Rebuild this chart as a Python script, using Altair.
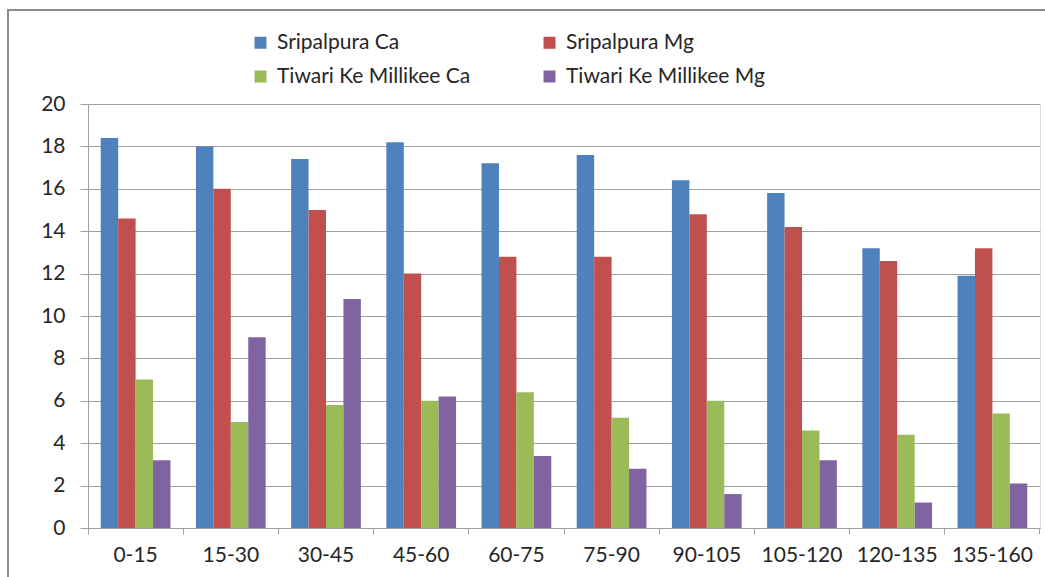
import altair as alt
import pandas as pd

depths = ["0-15", "15-30", "30-45", "45-60", "60-75", "75-90", "90-105", "105-120", "120-135", "135-160"]
series = ["Sripalpura Ca", "Sripalpura Mg", "Tiwari Ke Millikee Ca", "Tiwari Ke Millikee Mg"]
sri_ca = [18.4, 18.0, 17.4, 18.2, 17.2, 17.6, 16.4, 15.8, 13.2, 11.9]
sri_mg = [14.6, 16.0, 15.0, 12.0, 12.8, 12.8, 14.8, 14.2, 12.6, 13.2]
tiw_ca = [7.0, 5.0, 5.8, 6.0, 6.4, 5.2, 6.0, 4.6, 4.4, 5.4]
tiw_mg = [3.2, 9.0, 10.8, 6.2, 3.4, 2.8, 1.6, 3.2, 1.2, 2.1]
colors = ["#4F81BD", "#C0504D", "#9BBB59", "#8064A2"]
y_ticks = [0, 2, 4, 6, 8, 10, 12, 14, 16, 18, 20]

# legend fills column by column: order entries so rows read Ca/Mg pairs
legend_order = [series[0], series[2], series[1], series[3]]
legend_colors = [colors[0], colors[2], colors[1], colors[3]]

rows = []
for name, vals in zip(series, [sri_ca, sri_mg, tiw_ca, tiw_mg]):
    for d, v in zip(depths, vals):
        rows.append({"depth": d, "series": name, "value": v})
df = pd.DataFrame(rows)

W, H = 952, 424
FONT = "Lato"
GRAY = "#a0a0a0"

bars = alt.Chart(df).mark_bar().encode(
    x=alt.X(
        "depth:N",
        sort=depths,
        scale=alt.Scale(paddingInner=0, paddingOuter=0),
        axis=alt.Axis(
            title=None, labelAngle=0, bandPosition=0,
            ticks=True, tickSize=6, tickColor=GRAY, domainColor=GRAY,
            labelFont=FONT, labelFontSize=21, labelColor="#262626",
            labelPadding=10, grid=False,
        ),
    ),
    xOffset=alt.XOffset(
        "series:N", sort=series,
        scale=alt.Scale(paddingInner=0, paddingOuter=0.73),
    ),
    y=alt.Y(
        "value:Q",
        scale=alt.Scale(domain=[0, 20], nice=False),
        axis=alt.Axis(
            title=None, values=y_ticks, grid=True, gridColor=GRAY,
            domainColor=GRAY, tickColor=GRAY, tickSize=8,
            labelFont=FONT, labelFontSize=21, labelColor="#262626",
            labelPadding=15,
        ),
    ),
    color=alt.Color(
        "series:N",
        scale=alt.Scale(domain=legend_order, range=legend_colors),
        legend=alt.Legend(
            title=None, orient="none", legendX=162, legendY=-72, columns=2,
            symbolType="square", symbolSize=144, symbolStrokeWidth=0,
            labelFont=FONT, labelFontSize=21, labelColor="#262626",
            labelOffset=6, labelLimit=400, columnPadding=68, rowPadding=12,
        ),
    ),
)

one = pd.DataFrame({"k": [0]})
border_left = alt.Chart(one).mark_rule(color="#8c8c8c", strokeWidth=2, clip=False).encode(
    x=alt.value(-80), x2=alt.value(-80), y=alt.value(-94), y2=alt.value(480)
)
border_top = alt.Chart(one).mark_rule(color="#8c8c8c", strokeWidth=2, clip=False).encode(
    x=alt.value(-81), x2=alt.value(970), y=alt.value(-94), y2=alt.value(-94)
)
end_tick = alt.Chart(one).mark_rule(color=GRAY, strokeWidth=1, clip=False).encode(
    x=alt.value(W - 0.5), x2=alt.value(W - 0.5), y=alt.value(H), y2=alt.value(H + 6)
)

chart = alt.layer(bars, border_left, border_top, end_tick).properties(
    width=W, height=H,
    padding={"left": 88, "top": 104, "right": 5, "bottom": 49},
    autosize=alt.AutoSizeParams(type="none"),
).configure_view(stroke=None).configure(background="white")

chart.save("out.html", embed_options={"renderer": "svg", "actions": False})
